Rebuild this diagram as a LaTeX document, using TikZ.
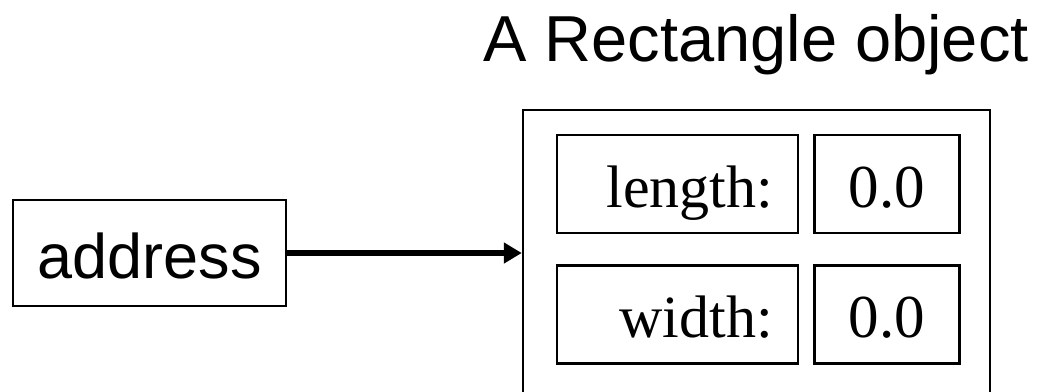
\documentclass[tikz,border=0pt]{standalone}
\usepackage{fontspec}
\setmainfont{Liberation Serif}
\setsansfont{Liberation Sans}
\usetikzlibrary{arrows.meta, positioning}

\begin{document}
\begin{tikzpicture}[x=1pt, y=-1pt, line width=2.4pt,
box/.style={draw, inner sep=0pt},
field/.style={box, minimum width=241pt, minimum height=98pt,
  text width=191pt, inner xsep=25pt, align=right,
  text height=46pt, text depth=0pt, font=\fontsize{60}{60}\selectfont},
value/.style={box, minimum width=145pt, minimum height=98pt,
  text height=46pt, text depth=0pt, font=\fontsize{61}{61}\selectfont},
node distance=14pt]

\useasboundingbox (0,0) rectangle (1046,391);

\node [font=\sffamily\fontsize{65}{70}\selectfont, anchor=base] (title) at (756,61) {A Rectangle object};

% the object and its two fields
\node [box, minimum width=467pt, minimum height=320pt] (obj) at (756.5,270) {};
\node [field] (len) at (677.5,184) {length:};
\node [value, right=14pt of len] (lenval) {0.0};
\node [field, below=30pt of len] (wid) {width:};
\node [value, right=14pt of wid] (widval) {0.0};

% reference pointing at it
\node [box, minimum width=273pt, minimum height=106pt, text height=50pt, text depth=0pt,
  font=\sffamily\fontsize{63}{63}\selectfont] (addr) at (149.5,253) {address};
\draw [line width=5.5pt, -{Triangle[length=18pt,width=20pt]}] (addr.east) -- (addr.east -| obj.west);

\end{tikzpicture}
\end{document}
